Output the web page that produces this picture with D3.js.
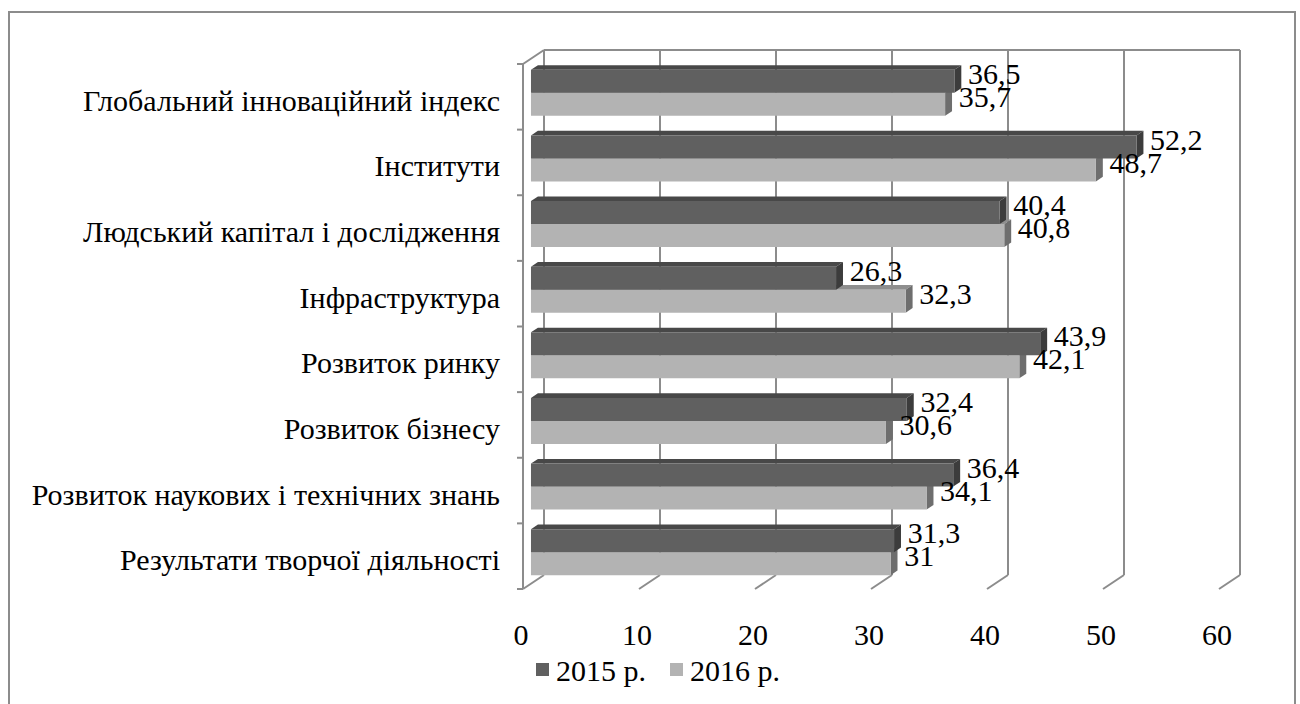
<!DOCTYPE html>
<html>
<head>
<meta charset="utf-8">
<script src="https://cdn.jsdelivr.net/npm/d3@7"></script>
<style>
  body { margin: 0; background: #fff; }
</style>
</head>
<body>
<div id="chart"></div>
<script>
// data
var categories = [
  'Глобальний інноваційний індекс',
  'Інститути',
  'Людський капітал і дослідження',
  'Інфраструктура',
  'Розвиток ринку',
  'Розвиток бізнесу',
  'Розвиток наукових і технічних знань',
  'Результати творчої діяльності'
]
var values2015 = [36.5, 52.2, 40.4, 26.3, 43.9, 32.4, 36.4, 31.3]
var values2016 = [35.7, 48.7, 40.8, 32.3, 42.1, 30.6, 34.1, 31]
var seriesNames = ['2015 р.', '2016 р.']
var xTicks = [0, 10, 20, 30, 40, 50, 60]

var width = 1300
var height = 704
var fontFamily = 'Liberation Serif'
var fontSize = '30px'

// depth offset of the plot box (oblique view)
var DX = 21
var DY = -14
var barD1 = 0.38
var barD2 = 0.71
var labelD = 0.55

var gridColor = '#8c8c8c'
var colors = {
  front: ['#606060', '#b3b3b3'],
  top: ['#484848', '#8e8e8e'],
  side: ['#3c3c3c', '#6e6e6e']
}

var svg = d3.select('#chart')
  .append('svg')
  .attr('width', width)
  .attr('height', height)

// outer border
svg.append('rect')
  .attr('x', 9)
  .attr('y', 12)
  .attr('width', 1286)
  .attr('height', 720)
  .attr('fill', 'none')
  .attr('stroke', gridColor)
  .attr('stroke-width', 2)

var xPositionScale = d3.scaleLinear().domain([0, 60]).range([523, 1219])
var yPositionScale = d3.scaleBand().domain(categories).range([64, 589])
var bw = yPositionScale.bandwidth()
var seriesScale = d3.scaleBand().domain(seriesNames).range([bw * 0.17, bw * 0.87])

function P(v, y, d) {
  return [xPositionScale(v) + d * DX, y + d * DY]
}

var yTop = yPositionScale.range()[0]
var yBottom = yPositionScale.range()[1]

function seg(g, a, b) {
  g.append('line')
    .attr('x1', a[0]).attr('y1', a[1])
    .attr('x2', b[0]).attr('y2', b[1])
    .attr('stroke', gridColor)
    .attr('stroke-width', 2)
}

// back wall gridlines + floor diagonals
var grid = svg.append('g')
xTicks.forEach(function(t) {
  seg(grid, P(t, yTop, 1), P(t, yBottom, 1))
  seg(grid, P(t, yBottom, 0), P(t, yBottom, 1))
})
// top edge of back wall
seg(grid, P(0, yTop, 1), P(60, yTop, 1))
// left wall top diagonal
seg(grid, P(0, yTop, 0), P(0, yTop, 1))
// category axis with ticks
seg(grid, P(0, yTop, 0), P(0, yBottom, 0))
var x0 = xPositionScale(0)
categories.map(function(c) { return yPositionScale(c) }).concat([yBottom])
  .forEach(function(y) {
    seg(grid, [x0 - 6, y], [x0, y])
  })

// bars
function face(pts, fill) {
  return svg.append('path')
    .attr('d', 'M' + pts.map(function(p) { return p.join(',') }).join('L') + 'Z')
    .attr('fill', fill)
}

var rows = categories.map(function(c, i) {
  return { name: c, values: [values2015[i], values2016[i]] }
})

rows.slice().reverse().forEach(function(row) {
  // lower series first so the upper one covers its top face
  for (var s = 1; s >= 0; s--) {
    var v = row.values[s]
    var y0 = yPositionScale(row.name) + seriesScale(seriesNames[s])
    var y1 = y0 + seriesScale.bandwidth()
    face([P(0, y0, barD1), P(v, y0, barD1), P(v, y0, barD2), P(0, y0, barD2)], colors.top[s])
    face([P(v, y0, barD1), P(v, y0, barD2), P(v, y1, barD2), P(v, y1, barD1)], colors.side[s])
    face([P(0, y0, barD1), P(v, y0, barD1), P(v, y1, barD1), P(0, y1, barD1)], colors.front[s])
  }
})

// value labels
rows.forEach(function(row) {
  row.values.forEach(function(v, s) {
    var yc = yPositionScale(row.name) + seriesScale(seriesNames[s]) + seriesScale.bandwidth() / 2
    var p = P(v, yc, labelD)
    svg.append('text')
      .attr('x', p[0] + 10)
      .attr('y', p[1] + 5)
      .attr('font-family', fontFamily)
      .style('font-size', fontSize)
      .text(String(v).replace('.', ','))
  })
})

// category labels
svg.append('g')
  .selectAll('text')
  .data(categories)
  .enter()
  .append('text')
  .attr('x', 500)
  .attr('y', function(d) { return yPositionScale(d) + bw / 2 + 14 })
  .attr('text-anchor', 'end')
  .attr('font-family', fontFamily)
  .style('font-size', fontSize)
  .text(function(d) { return d })

// x tick labels
svg.append('g')
  .selectAll('text')
  .data(xTicks)
  .enter()
  .append('text')
  .attr('x', function(d) { return xPositionScale(d) - 2 })
  .attr('y', 645)
  .attr('text-anchor', 'middle')
  .attr('font-family', fontFamily)
  .style('font-size', fontSize)
  .text(function(d) { return d })

// legend
var legend = svg.append('g').attr('transform', 'translate(536,663)')
seriesNames.forEach(function(name, i) {
  var g = legend.append('g').attr('transform', 'translate(' + i * 134 + ',0)')
  g.append('rect')
    .attr('width', 13).attr('height', 13)
    .attr('fill', colors.front[i])
  g.append('text')
    .attr('x', 20)
    .attr('y', 18)
    .attr('font-family', fontFamily)
    .style('font-size', fontSize)
    .text(name)
})
</script>
</body>
</html>
